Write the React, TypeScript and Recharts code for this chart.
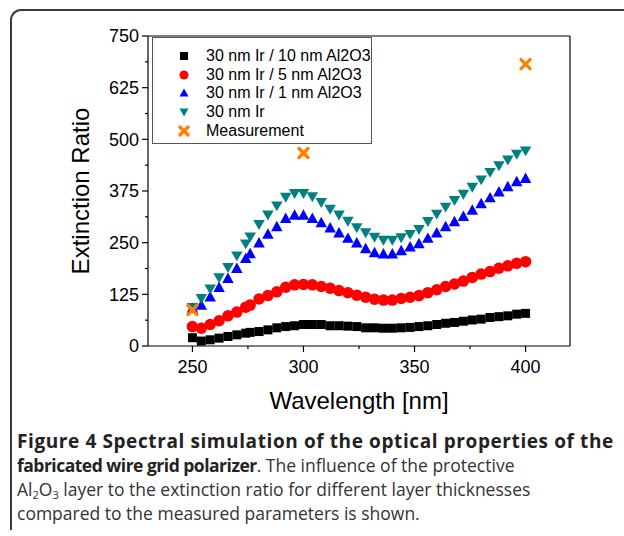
import React from "react";
import { ScatterChart, Scatter, XAxis, YAxis, Legend } from "recharts";

// simulated spectra
const wavelengths = [
  250, 254, 258, 262, 266, 270, 274, 276, 280, 284, 288, 292, 296, 300, 304, 308, 312, 316, 320, 324,
  328, 332, 336, 340, 344, 348, 352, 356, 360, 364, 368, 372, 376, 380, 384, 388, 392, 396, 400,
];
const ir10nmAl = [
  20, 12, 15, 19, 23, 27, 31, 33, 35, 39, 44, 47, 49, 52, 52, 52, 49, 49, 48, 47,
  44, 44, 43, 43, 44, 45, 47, 49, 52, 55, 57, 60, 63, 65, 69, 71, 73, 77, 79,
];
const ir5nmAl = [
  47, 43, 52, 61, 73, 82, 94, 99, 114, 122, 131, 142, 148, 149, 148, 144, 140, 134, 129, 123,
  118, 113, 111, 111, 115, 118, 122, 129, 136, 144, 150, 157, 166, 174, 180, 188, 194, 200, 204,
];
const ir1nmAl = [
  92, 99, 119, 142, 164, 188, 212, 224, 250, 271, 289, 309, 317, 317, 309, 299, 286, 274, 261, 250,
  236, 226, 223, 223, 231, 240, 248, 261, 274, 289, 301, 314, 329, 345, 359, 373, 386, 398, 406,
];
const irOnly = [
  93, 115, 138, 165, 190, 218, 247, 264, 294, 317, 339, 360, 369, 369, 361, 347, 331, 317, 302, 286,
  274, 263, 256, 256, 262, 270, 282, 301, 319, 336, 352, 367, 384, 402, 420, 436, 450, 464, 472,
];
const measWavelengths = [250, 300, 400];
const measValues = [87, 467, 682];

const xTicks = [250, 275, 300, 325, 350, 375, 400];
const yTicks = [0, 62.5, 125, 187.5, 250, 312.5, 375, 437.5, 500, 562.5, 625, 687.5, 750];

const toPoints = (xs: number[], ys: number[]) => xs.map((x, i) => ({ x, y: ys[i] }));

const series = [
  { name: "30 nm Ir / 10 nm Al2O3", kind: "square", color: "#000000", data: toPoints(wavelengths, ir10nmAl) },
  { name: "30 nm Ir / 5 nm Al2O3", kind: "circle", color: "#ff0000", data: toPoints(wavelengths, ir5nmAl) },
  { name: "30 nm Ir / 1 nm Al2O3", kind: "up", color: "#0000ff", data: toPoints(wavelengths, ir1nmAl) },
  { name: "30 nm Ir", kind: "down", color: "#008080", data: toPoints(wavelengths, irOnly) },
  { name: "Measurement", kind: "cross", color: "#ff8000", data: toPoints(measWavelengths, measValues) },
];

const FONT = "'Liberation Sans', Arial, sans-serif";

function Marker({ kind, cx, cy, color, s }: any) {
  if (kind === "square") return <rect x={cx - s / 2} y={cy - s / 2} width={s} height={s} fill={color} />;
  if (kind === "circle") return <circle cx={cx} cy={cy} r={s / 2 + 0.5} fill={color} />;
  if (kind === "up") {
    const h = s * 0.9;
    return <polygon points={`${cx},${cy - h / 2 - 1} ${cx - s / 2 - 0.5},${cy + h / 2} ${cx + s / 2 + 0.5},${cy + h / 2}`} fill={color} />;
  }
  if (kind === "down") {
    const h = s * 0.85;
    return <polygon points={`${cx},${cy + h / 2 + 1} ${cx - s / 2 - 0.5},${cy - h / 2} ${cx + s / 2 + 0.5},${cy - h / 2}`} fill={color} />;
  }
  const d = s / 2 - 0.5;
  return (
    <g stroke={color} strokeWidth={3.4} strokeLinecap="round">
      <line x1={cx - d} y1={cy - d} x2={cx + d} y2={cy + d} />
      <line x1={cx - d} y1={cy + d} x2={cx + d} y2={cy - d} />
    </g>
  );
}

const LeftTick = ({ x, y, payload }: any) => {
  const major = payload.value % 125 === 0;
  return (
    <g>
      <line x1={x - (major ? 6 : 3)} x2={x} y1={y} y2={y} stroke="#000" strokeWidth={1.2} />
      {major && (
        <text x={x - 9} y={y} dy="0.36em" textAnchor="end" fontSize={18} fontFamily={FONT} fill="#000">
          {payload.value}
        </text>
      )}
    </g>
  );
};

const RightTick = ({ x, y, payload }: any) => {
  const major = payload.value % 125 === 0;
  return <line x1={x - (major ? 6 : 4)} x2={x} y1={y} y2={y} stroke="#000" strokeWidth={1.2} />;
};

const BottomTick = ({ x, y, payload }: any) => {
  const major = payload.value % 50 === 0;
  return (
    <g>
      <line x1={x} x2={x} y1={y} y2={y + (major ? 6 : 3)} stroke="#000" strokeWidth={1.2} />
      {major && (
        <text x={x} y={y + 21} dy="0.36em" textAnchor="middle" fontSize={18} fontFamily={FONT} fill="#000">
          {payload.value}
        </text>
      )}
    </g>
  );
};

const TopTick = ({ x, y, payload }: any) => {
  const major = payload.value % 50 === 0;
  return <line x1={x} x2={x} y1={y} y2={y + (major ? 6 : 4)} stroke="#000" strokeWidth={1.2} />;
};

const LegendBox = () => (
  <div
    style={{
      width: 220,
      height: 107,
      border: "1.5px solid #555",
      background: "#fff",
      boxSizing: "border-box",
      paddingTop: 9,
      fontFamily: FONT,
      fontSize: 16,
    }}
  >
    {series.map((s) => (
      <div key={s.name} style={{ display: "flex", alignItems: "center", height: 18.6 }}>
        <svg width={53} height={16}>
          <Marker kind={s.kind} cx={31} cy={8} color={s.color} s={s.kind === "cross" ? 9 : 8} />
        </svg>
        <span style={{ color: "#000", whiteSpace: "nowrap" }}>{s.name}</span>
      </div>
    ))}
  </div>
);

export default function App() {
  return (
    <div style={{ position: "fixed", left: 0, top: 0, width: 624, height: 536, overflow: "hidden", background: "#fff" }}>
      <div
        style={{
          position: "absolute",
          left: 10,
          top: 9,
          width: 700,
          height: 519,
          borderTop: "2px solid #3a3a3a",
          borderLeft: "2px solid #3a3a3a",
          borderTopLeftRadius: 11,
        }}
      />
      <div style={{ position: "absolute", left: 0, top: 0 }}>
        <ScatterChart width={624} height={420} margin={{ top: 36, right: 54, bottom: 0, left: 0 }}>
          <XAxis
            xAxisId="bottom"
            type="number"
            dataKey="x"
            domain={[230, 420]}
            ticks={xTicks}
            interval={0}
            tickSize={0}
            tickMargin={0}
            tickLine={false}
            tick={<BottomTick />}
            height={74}
            axisLine={{ stroke: "#000", strokeWidth: 1.2 }}
            label={{ value: "Wavelength [nm]", position: "insideTop", offset: 46, fontSize: 24, fontFamily: FONT, fill: "#000" }}
          />
          <XAxis
            xAxisId="top"
            orientation="top"
            mirror
            type="number"
            dataKey="x"
            domain={[230, 420]}
            ticks={xTicks}
            interval={0}
            tickSize={0}
            tickMargin={0}
            tickLine={false}
            tick={<TopTick />}
            axisLine={{ stroke: "#000", strokeWidth: 1.2 }}
          />
          <YAxis
            yAxisId="left"
            type="number"
            dataKey="y"
            domain={[0, 750]}
            ticks={yTicks}
            interval={0}
            tickSize={0}
            tickMargin={0}
            tickLine={false}
            tick={<LeftTick />}
            width={148}
            axisLine={{ stroke: "#000", strokeWidth: 1.2 }}
            label={{
              value: "Extinction Ratio",
              angle: -90,
              position: "insideLeft",
              offset: 80,
              fontSize: 24,
              fontFamily: FONT,
              fill: "#000",
              style: { textAnchor: "middle" },
            }}
          />
          <YAxis
            yAxisId="right"
            orientation="right"
            mirror
            type="number"
            dataKey="y"
            domain={[0, 750]}
            ticks={yTicks}
            interval={0}
            tickSize={0}
            tickMargin={0}
            tickLine={false}
            tick={<RightTick />}
            axisLine={{ stroke: "#000", strokeWidth: 1.2 }}
          />
          {series.map((s) => (
            <Scatter
              key={s.name}
              name={s.name}
              data={s.data}
              xAxisId="bottom"
              yAxisId="left"
              fill={s.color}
              isAnimationActive={false}
              shape={(p: any) => (
                <Marker kind={s.kind} cx={p.cx} cy={p.cy} color={s.color} s={s.kind === "square" ? 9 : s.kind === "cross" ? 10 : 10.5} />
              )}
            />
          ))}
          <Legend
            layout="vertical"
            align="center"
            verticalAlign="middle"
            wrapperStyle={{ left: 152, top: 37, width: 220, height: 107 }}
            content={() => <LegendBox />}
          />
        </ScatterChart>
      </div>
      <div
        style={{
          position: "absolute",
          left: 17,
          top: 429,
          fontFamily: "'Open Sans', sans-serif",
          fontSize: 17.5,
          lineHeight: "24px",
          color: "#333",
          whiteSpace: "nowrap",
        }}
      >
        <div style={{ fontWeight: 700, color: "#222", fontSize: 19, letterSpacing: 0.6 }}>
          Figure 4 Spectral simulation of the optical properties of the
        </div>
        <div>
          <b style={{ color: "#222", letterSpacing: -0.5 }}>fabricated wire grid polarizer</b>. The influence of the protective
        </div>
        <div>
          Al<sub style={{ fontSize: 11, lineHeight: 0, verticalAlign: -3 }}>2</sub>O
          <sub style={{ fontSize: 11, lineHeight: 0, verticalAlign: -3 }}>3</sub> layer to the extinction ratio for different
          layer thicknesses
        </div>
        <div>compared to the measured parameters is shown.</div>
      </div>
    </div>
  );
}
